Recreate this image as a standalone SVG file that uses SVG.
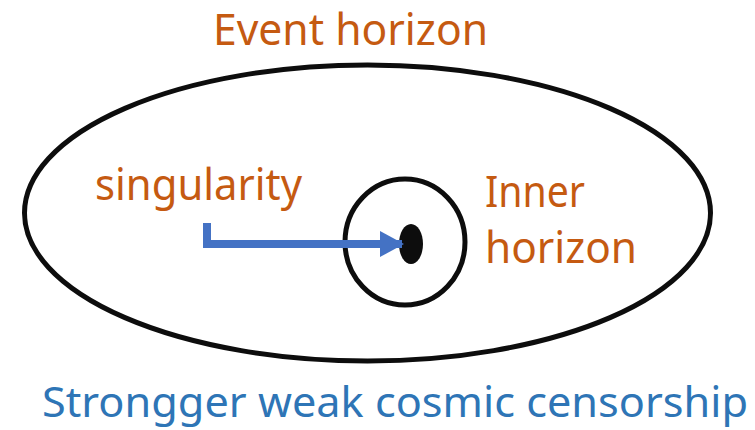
<svg xmlns="http://www.w3.org/2000/svg" width="755" height="430" viewBox="0 0 755 430">
<style>
.lbl{font-family:"Noto Sans","Open Sans","DejaVu Sans",sans-serif;font-size:43px;fill:#C55A11}
.cap{font-family:"Noto Sans","Open Sans","DejaVu Sans",sans-serif;font-size:42px;fill:#2E75B6}
.ring{fill:none;stroke:#0D0D0D;stroke-width:5}
</style>
<defs>
<marker id="ah" markerUnits="userSpaceOnUse" markerWidth="24" markerHeight="26" refX="22" refY="13" orient="auto">
<path d="M0,0 L24,13 L0,26 Z" fill="#4472C4"/>
</marker>
</defs>
<g id="event-horizon">
<ellipse class="ring" cx="367.5" cy="213" rx="343" ry="148"/>
<text class="lbl" x="213" y="45" textLength="275" lengthAdjust="spacingAndGlyphs">Event horizon</text>
</g>
<g id="inner-horizon">
<ellipse class="ring" cx="405" cy="242" rx="60" ry="63"/>
<text class="lbl" x="485" y="207" textLength="100" lengthAdjust="spacingAndGlyphs">Inner</text>
<text class="lbl" x="485" y="263" textLength="152" lengthAdjust="spacingAndGlyphs">horizon</text>
</g>
<g id="singularity">
<ellipse cx="411" cy="244" rx="12" ry="20" fill="#0D0D0D"/>
<text class="lbl" x="95" y="200" textLength="207" lengthAdjust="spacingAndGlyphs">singularity</text>
</g>
<g id="connectors">
<path d="M207,223 L207,244 L402,244" fill="none" stroke="#4472C4" stroke-width="8" marker-end="url(#ah)"/>
</g>
<g id="caption">
<text class="cap" x="42" y="417" textLength="706" lengthAdjust="spacingAndGlyphs">Strongger weak cosmic censorship</text>
</g>
</svg>
